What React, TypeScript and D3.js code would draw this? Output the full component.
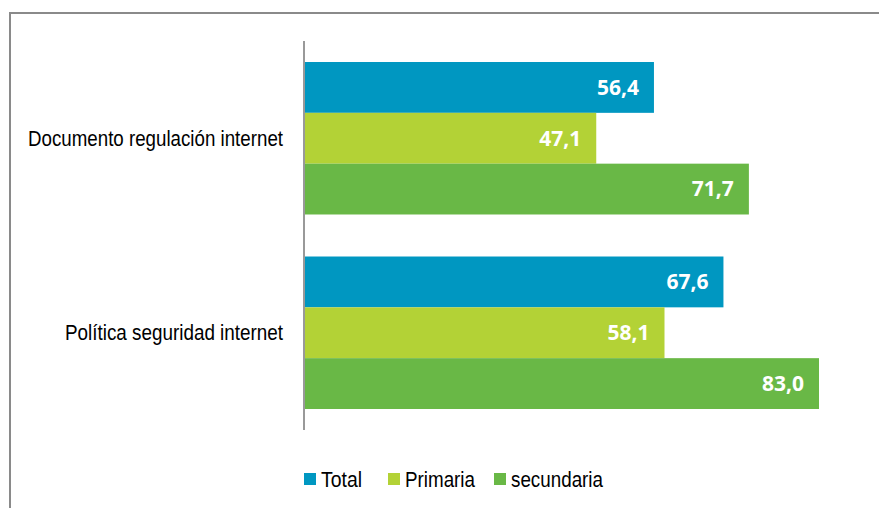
import React from "react";
import * as d3 from "d3";

const categories = ["Documento regulación internet", "Política seguridad internet"];
const seriesNames = ["Total", "Primaria", "secundaria"];
const totalValues = [56.4, 67.6];
const primariaValues = [47.1, 58.1];
const secundariaValues = [71.7, 83.0];
const colors = ["#0097c1", "#b3d236", "#69b846"];
const categoryLabelWidths = [255, 218];
const legendTextWidths = [41, 70, 92];

const W = 879;
const H = 508;

export default function App() {
  const series = [totalValues, primariaValues, secundariaValues];
  const x = d3.scaleLinear().domain([0, 83.0]).range([304, 819]);
  const y = d3.scaleBand<string>().domain(categories).range([41, 430]).paddingInner(0.216).paddingOuter(0.108);
  const inner = d3.scaleBand<string>().domain(seriesNames).range([0, y.bandwidth()]);
  const fmt = (v: number) => v.toFixed(1).replace(".", ",");

  const legendX = [304, 388, 494];

  return (
    <svg width={W} height={H} style={{ position: "absolute", left: 0, top: 0, display: "block" }}>
      <rect x={0} y={0} width={W} height={H} fill="#fff" />
      <path d={`M10,${H} L10,13 L${W},13`} fill="none" stroke="#8a8a8a" strokeWidth={2} />
      {categories.map((c, ci) => (
        <g key={c}>
          {series.map((vals, si) => {
            const y0 = (y(c) as number) + (inner(seriesNames[si]) as number);
            const h = inner.bandwidth();
            return (
              <g key={si}>
                <rect x={x(0)} y={y0} width={x(vals[ci]) - x(0)} height={h} fill={colors[si]} />
                <text
                  x={x(vals[ci]) - 15}
                  y={y0 + h / 2}
                  dy="0.35em"
                  textAnchor="end"
                  fill="#fff"
                  fontFamily="'Open Sans', sans-serif"
                  fontWeight="bold"
                  fontSize={21}
                >
                  {fmt(vals[ci])}
                </text>
              </g>
            );
          })}
          <text
            x={283}
            y={(y(c) as number) + y.bandwidth() / 2}
            dy="0.35em"
            textAnchor="end"
            fill="#000"
            fontFamily="'Liberation Sans', Arial, sans-serif"
            fontSize={22}
            textLength={categoryLabelWidths[ci]}
            lengthAdjust="spacingAndGlyphs"
          >
            {c}
          </text>
        </g>
      ))}
      <line x1={304} x2={304} y1={41} y2={430} stroke="#999" strokeWidth={2} />
      {seriesNames.map((s, i) => (
        <g key={s}>
          <rect x={legendX[i]} y={473} width={12} height={12} fill={colors[i]} />
          <text
            x={legendX[i] + 17}
            y={479.5}
            dy="0.35em"
            fill="#000"
            fontFamily="'Liberation Sans', Arial, sans-serif"
            fontSize={22}
            textLength={legendTextWidths[i]}
            lengthAdjust="spacingAndGlyphs"
          >
            {s}
          </text>
        </g>
      ))}
    </svg>
  );
}
